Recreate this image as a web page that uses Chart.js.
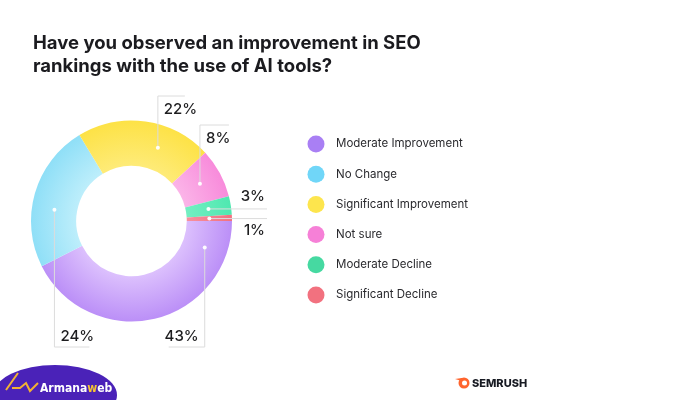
<!DOCTYPE html>
<html>
<head>
<meta charset="utf-8">
<script src="https://cdn.jsdelivr.net/npm/chart.js@4.4.0/dist/chart.umd.min.js"></script>
<style>
  html, body { margin: 0; padding: 0; background: #fff; }
  #wrap { width: 700px; height: 400px; position: relative; }
</style>
</head>
<body>
<div id="wrap"><canvas id="mycanvas" width="700" height="400"></canvas></div>
<script>
// data
var categories = ["Moderate Improvement", "No Change", "Significant Improvement", "Not sure", "Moderate Decline", "Significant Decline"];
var shares = [43, 24, 22, 8, 3, 1];
var shareLabels = ["43%", "24%", "22%", "8%", "3%", "1%"];
var titleLines = ["Have you observed an improvement in SEO", "rankings with the use of AI tools?"];

// slice colours (inner light -> outer base) and legend dots
var innerColors = ["#dcc0fd", "#bdeefb", "#feeb78", "#fbb4e8", "#74efc2", "#f7909f"];
var outerColors = ["#bb8ff7", "#8fdff7", "#fde246", "#f88bdb", "#4fe8b0", "#f3707f"];
var dotColors = ["#a97ff4", "#70d6f8", "#fde54d", "#f680d7", "#46d9a1", "#f2717f"];

// leader lines: where in the slice the dot sits, and where the line goes
var leaders = [
  { at: 0.13, toY: 347, run: -36 },
  { at: 0.41, toY: 347, run: 35 },
  { at: 0.65, toY: 96, run: 27 },
  { at: 0.5, toY: 125, run: 29 },
  { at: 0.5, toX: 267, above: true },
  { at: 0.5, toX: 267, above: false }
];

var CUT = 0.55;

function sliceFill(ctx) {
  var i = ctx.dataIndex;
  var area = ctx.chart.chartArea;
  if (i === undefined) return outerColors[0];
  if (!area) return outerColors[i];
  var cx = (area.left + area.right) / 2;
  var cy = (area.top + area.bottom) / 2;
  var outer = Math.min(area.right - area.left, area.bottom - area.top) / 2;
  var g = ctx.chart.ctx.createRadialGradient(cx, cy, outer * CUT, cx, cy, outer);
  g.addColorStop(0, innerColors[i]);
  g.addColorStop(1, outerColors[i]);
  return g;
}

var extras = {
  id: 'extras',
  afterDatasetsDraw: function(chart) {
    var c = chart.ctx;
    var meta = chart.getDatasetMeta(0);
    c.save();
    // leader lines + labels
    meta.data.forEach(function(arc, i) {
      var L = leaders[i];
      var a = arc.startAngle + (arc.endAngle - arc.startAngle) * L.at;
      var r = (arc.innerRadius + arc.outerRadius) / 2;
      var px = arc.x + Math.cos(a) * r;
      var py = arc.y + Math.sin(a) * r;
      c.strokeStyle = "#dcdcdc";
      c.lineWidth = 1;
      c.beginPath();
      c.moveTo(px, py);
      c.font = "500 15px Inter, 'Noto Sans', sans-serif";
      c.fillStyle = "#1d1d1f";
      c.textBaseline = "middle";
      if (L.toY !== undefined) {
        c.lineTo(px, L.toY);
        c.lineTo(px + L.run, L.toY);
        c.stroke();
        var down = L.toY > py;
        var ty = down ? L.toY - 11 : L.toY + 13;
        if (L.run < 0) { c.textAlign = "right"; c.fillText(shareLabels[i], px - 6, ty); }
        else { c.textAlign = "left"; c.fillText(shareLabels[i], px + 6, ty); }
      } else {
        c.lineTo(L.toX, py);
        c.stroke();
        c.textAlign = "right";
        c.fillText(shareLabels[i], L.toX - 2, L.above ? py - 12 : py + 12);
      }
      c.fillStyle = "rgba(255,255,255,0.95)";
      c.beginPath();
      c.arc(px, py, 2, 0, Math.PI * 2);
      c.fill();
    });

    // title
    c.fillStyle = "#1b1b1f";
    c.textAlign = "left";
    c.textBaseline = "alphabetic";
    c.font = "700 18.5px Inter, 'Noto Sans', sans-serif";
    c.fillText(titleLines[0], 33, 49);
    c.fillText(titleLines[1], 33, 72);

    // legend
    c.font = "400 11.5px Inter, 'Noto Sans', sans-serif";
    c.textBaseline = "middle";
    categories.forEach(function(name, i) {
      var y = 144 + i * 30.2;
      c.fillStyle = dotColors[i];
      c.beginPath();
      c.arc(316, y, 8.5, 0, Math.PI * 2);
      c.fill();
      c.fillStyle = "#2a2a2e";
      c.fillText(name, 336, y);
    });

    // watermark bottom left
    c.fillStyle = "#4a22b8";
    c.beginPath();
    c.ellipse(55, 395, 62, 30, 0, 0, Math.PI * 2);
    c.fill();
    c.strokeStyle = "#f2b233";
    c.lineWidth = 2;
    c.beginPath();
    c.moveTo(6, 390); c.lineTo(18, 373);
    c.moveTo(12, 388); c.lineTo(20, 388); c.lineTo(26, 383); c.lineTo(30, 391); c.lineTo(38, 383);
    c.stroke();
    c.font = "600 12px 'DejaVu Sans Condensed', 'Liberation Sans Narrow', sans-serif";
    c.textBaseline = "alphabetic";
    c.fillStyle = "#ffffff";
    c.fillText("Armana", 40, 392);
    var w1 = c.measureText("Armana").width;
    c.fillStyle = "#f5c431";
    c.fillText("w", 40 + w1, 392);
    var w2 = c.measureText("w").width;
    c.fillStyle = "#ffffff";
    c.fillText("eb", 40 + w1 + w2, 392);

    // semrush mark
    c.fillStyle = "#ff642d";
    c.beginPath();
    c.arc(464, 383, 5.5, 0, Math.PI * 2);
    c.fill();
    c.beginPath();
    c.moveTo(455, 379); c.lineTo(462, 378); c.lineTo(462, 381); c.closePath();
    c.fill();
    c.fillStyle = "#fff";
    c.beginPath();
    c.arc(464.5, 383, 2.5, 0, Math.PI * 2);
    c.fill();
    c.fillStyle = "#171a22";
    c.font = "800 11px Inter, 'Noto Sans', sans-serif";
    c.fillText("SEMRUSH", 472, 387);
    c.restore();
  }
};

var ctx = document.getElementById("mycanvas");

var donut = new Chart(ctx, {
  type: 'doughnut',
  data: {
    labels: categories,
    datasets: [{
      data: shares,
      backgroundColor: sliceFill,
      borderWidth: 0
    }]
  },
  options: {
    responsive: false,
    animation: false,
    rotation: 90,
    cutout: '55%',
    layout: { padding: { left: 31, top: 120, right: 468, bottom: 78 } },
    plugins: {
      legend: { display: false },
      title: { display: false },
      tooltip: { enabled: false }
    }
  },
  plugins: [extras]
});
</script>
</body>
</html>
